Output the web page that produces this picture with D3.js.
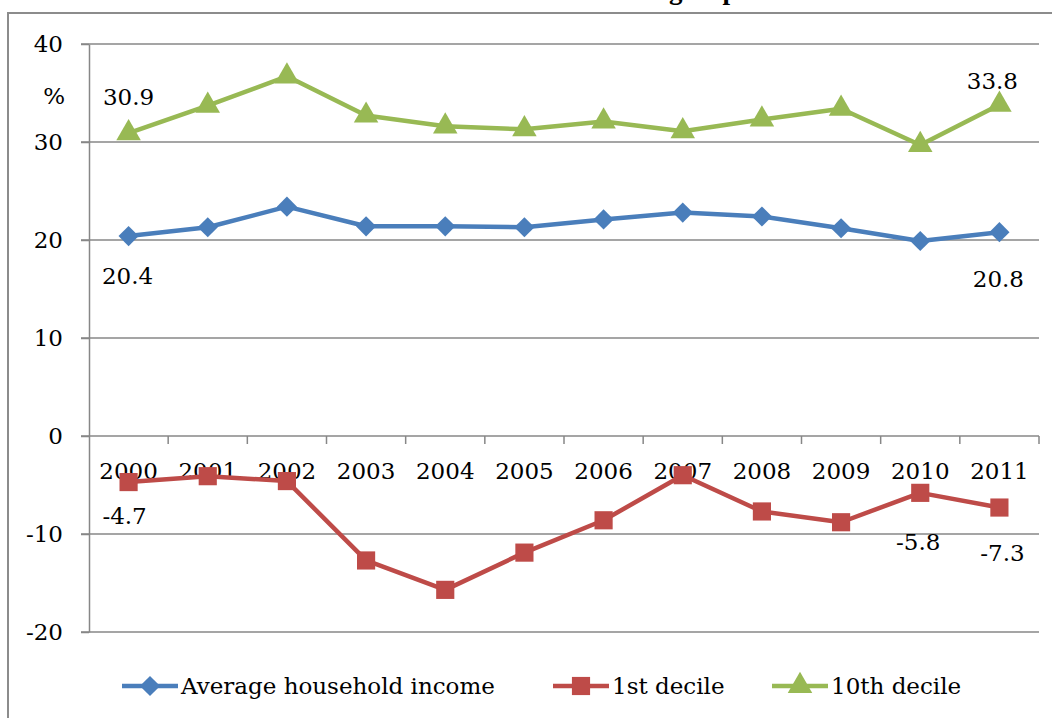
<!DOCTYPE html>
<html>
<head>
<meta charset="utf-8">
<script src="https://cdn.jsdelivr.net/npm/d3@7"></script>
<style>
  html, body { margin: 0; padding: 0; background: #fff; }
  svg { display: block; }
  text { font-family: "DejaVu Serif", "Liberation Serif", serif; fill: #000; }
</style>
</head>
<body>
<svg id="chart" width="1052" height="718"></svg>
<script>
// ---- data ----
const years = ["2000","2001","2002","2003","2004","2005","2006","2007","2008","2009","2010","2011"];
const averageIncome = [20.4, 21.3, 23.4, 21.4, 21.4, 21.3, 22.1, 22.8, 22.4, 21.2, 19.9, 20.8];
const firstDecile   = [-4.7, -4.1, -4.6, -12.7, -15.7, -11.9, -8.6, -4.0, -7.7, -8.8, -5.8, -7.3];
const tenthDecile   = [30.9, 33.7, 36.7, 32.7, 31.6, 31.3, 32.1, 31.1, 32.3, 33.4, 29.7, 33.8];
const yTicks = [-20, -10, 0, 10, 20, 30, 40];
const yTickLabels = ["-20", "-10", "0", "10", "20", "30", "40"];
const seriesNames = ["Average household income", "1st decile", "10th decile"];
const titleText = "Real income of three income groups";
const unitLabel = "%";
// labelled points: series index, year index
const labelled = [
  {s: 2, i: 0, dx: 0, dy: -28},
  {s: 2, i: 11, dx: -7, dy: -16},
  {s: 0, i: 0, dx: -1, dy: 48},
  {s: 0, i: 11, dx: -1, dy: 55},
  {s: 1, i: 0, dx: -4, dy: 42},
  {s: 1, i: 10, dx: -2, dy: 57},
  {s: 1, i: 11, dx: 3, dy: 53}
];

const colors = ["#4A7EBB", "#BE4B48", "#98B954"];
const shapes = [d3.symbolDiamond2, d3.symbolSquare, d3.symbolTriangle];
const allSeries = [averageIncome, firstDecile, tenthDecile];

const svg = d3.select("#chart");

// frame
svg.append("rect").attr("x", 8).attr("y", 13).attr("width", 1100).attr("height", 800)
  .attr("fill", "none").attr("stroke", "#8c8c8c").attr("stroke-width", 2);

// title (mostly cut off at top, as in the source image)
svg.append("text").attr("x", 748).attr("y", -1).attr("text-anchor", "end")
  .style("font-family", "'Liberation Serif', serif").style("font-weight", "bold")
  .style("font-size", "27px").text(titleText);

const x = d3.scaleBand().domain(years).range([89, 1039]);
const y = d3.scaleLinear().domain([-20, 40]).range([632, 44]);

const gridColor = "#878787";

// gridlines
svg.append("g").selectAll("line").data(yTicks).join("line")
  .attr("x1", 81).attr("x2", 1039)
  .attr("y1", d => y(d)).attr("y2", d => y(d))
  .attr("stroke", gridColor).attr("stroke-width", 1.5);

// y axis
const yAxis = svg.append("g").attr("transform", "translate(89,0)")
  .call(d3.axisLeft(y).tickValues(yTicks).tickFormat((d, i) => yTickLabels[i])
    .tickSize(8).tickSizeOuter(0).tickPadding(18));
yAxis.select(".domain").attr("stroke", gridColor).attr("stroke-width", 1.5);
yAxis.selectAll(".tick line").attr("stroke", gridColor).attr("stroke-width", 1.5);
yAxis.selectAll("text").style("font-size", "23px").style("font-family", "'DejaVu Serif', serif").attr("fill", "#000");

// unit label
svg.append("text").attr("x", 65).attr("y", 104).attr("text-anchor", "end")
  .style("font-size", "23px").text(unitLabel);

// x axis at zero
const xAxis = svg.append("g").attr("transform", `translate(0,${y(0)})`)
  .call(d3.axisBottom(x).tickSize(0).tickPadding(27));
xAxis.select(".domain").remove();
xAxis.selectAll("text").style("font-size", "23px").style("font-family", "'DejaVu Serif', serif").attr("fill", "#000");
svg.append("g").selectAll("line").data(years).join("line")
  .attr("x1", d => x(d) + x.bandwidth()).attr("x2", d => x(d) + x.bandwidth())
  .attr("y1", y(0)).attr("y2", y(0) + 8)
  .attr("stroke", gridColor).attr("stroke-width", 1.5);

// series
const line = d3.line().x((d, i) => x(years[i]) + x.bandwidth() / 2).y(d => y(d));
const symSizes = [260, 330, 260];
allSeries.forEach((vals, s) => {
  const g = svg.append("g");
  g.append("path").datum(vals).attr("d", line)
    .attr("fill", "none").attr("stroke", colors[s]).attr("stroke-width", 4.5)
    .attr("stroke-linejoin", "round");
  g.selectAll("path.m").data(vals).join("path").attr("class", "m")
    .attr("transform", (d, i) => `translate(${x(years[i]) + x.bandwidth() / 2},${y(d)})`)
    .attr("d", d3.symbol().type(shapes[s]).size(symSizes[s]))
    .attr("fill", colors[s]);
});

// data labels
svg.append("g").selectAll("text").data(labelled).join("text")
  .attr("x", d => x(years[d.i]) + x.bandwidth() / 2 + d.dx)
  .attr("y", d => y(allSeries[d.s][d.i]) + d.dy)
  .attr("text-anchor", "middle")
  .style("font-size", "23px")
  .text(d => allSeries[d.s][d.i].toFixed(1));

// legend
const legendX = [122, 553, 772];
const legendY = 686;
const lg = svg.append("g");
seriesNames.forEach((name, s) => {
  const x0 = legendX[s];
  lg.append("line").attr("x1", x0).attr("x2", x0 + 56).attr("y1", legendY).attr("y2", legendY)
    .attr("stroke", colors[s]).attr("stroke-width", 4.5);
  lg.append("path").attr("transform", `translate(${x0 + 28},${legendY})`)
    .attr("d", d3.symbol().type(shapes[s]).size(symSizes[s])).attr("fill", colors[s]);
  lg.append("text").attr("x", x0 + 59).attr("y", legendY + 8)
    .style("font-size", "23px").text(name);
});
</script>
</body>
</html>
